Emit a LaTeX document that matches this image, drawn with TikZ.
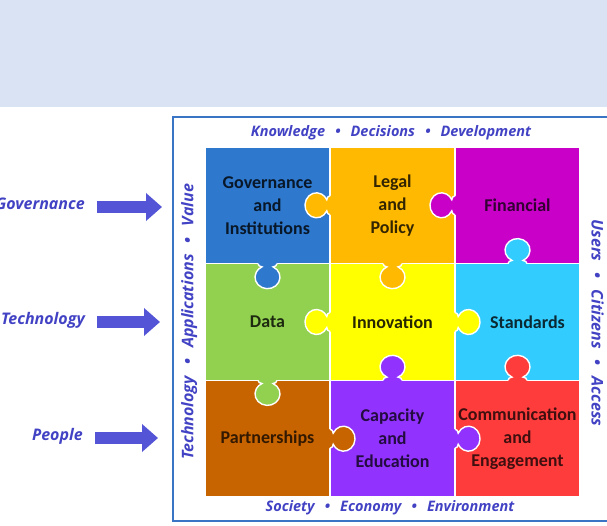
\documentclass[tikz,border=0pt]{standalone}
\usepackage{fontspec}
\setmainfont{Carlito}
\newfontfamily\lblfont{Open Sans}
\usetikzlibrary{positioning,arrows.meta}

\definecolor{bandblue}{RGB}{218,227,243}
\definecolor{frameblue}{RGB}{58,116,196}
\definecolor{lblblue}{RGB}{66,66,196}
\definecolor{arrowblue}{RGB}{84,84,214}
\definecolor{govblue}{RGB}{46,120,205}
\definecolor{legalorange}{RGB}{255,185,0}
\definecolor{finmagenta}{RGB}{200,0,200}
\definecolor{datagreen}{RGB}{146,208,80}
\definecolor{innoyellow}{RGB}{255,255,0}
\definecolor{stdcyan}{RGB}{51,204,255}
\definecolor{partbrown}{RGB}{200,100,0}
\definecolor{cappurple}{RGB}{145,50,255}
\definecolor{commred}{RGB}{255,60,60}

\newcommand{\sep}{\hspace{0.7em}\textbullet\hspace{0.7em}}
% knob of a piece, sticking out into its neighbour
\newcommand{\puzzleknob}[3]{%
  \begin{scope}[shift={(#1)}, rotate=#2]
    \fill[#3] (-1,-9.5) -- (0,-9.5) .. controls (1.8,-9.5) and (3.2,-7.5) .. (3.2,-5.5)
      arc[start angle=-153.9, end angle=153.9, x radius=11.5, y radius=12.5]
      .. controls (3.2,7.5) and (1.8,9.5) .. (0,9.5) -- (-1,9.5) -- cycle;
    \draw[knobline] (0,-9.5) .. controls (1.8,-9.5) and (3.2,-7.5) .. (3.2,-5.5)
      arc[start angle=-153.9, end angle=153.9, x radius=11.5, y radius=12.5]
      .. controls (3.2,7.5) and (1.8,9.5) .. (0,9.5);
  \end{scope}}

\begin{document}
\begin{tikzpicture}[x=1pt,y=-1pt,
  piece/.style={rectangle,draw=white,line width=1.5pt,minimum width=125pt,minimum height=116.7pt,
    inner sep=0pt,outer sep=0pt,align=center,font=\fontsize{18}{23}\selectfont\bfseries},
  knobline/.style={white,line width=1.4pt},
  sidelabel/.style={font=\lblfont\bfseries\itshape\fontsize{14.5}{18}\selectfont,text=lblblue,inner sep=0pt},
  biglabel/.style={sidelabel,font=\lblfont\bfseries\itshape\fontsize{16}{20}\selectfont},
  bigarrow/.style={draw=arrowblue,line width=12pt,-{Triangle[length=16pt,width=27pt]}}
  ]
    \useasboundingbox (0,0) rectangle (607,526);
    \fill[bandblue] (0,0) rectangle (607,107);
    \draw[frameblue,line width=2.2pt] (173,117) rectangle (615,521);

    \node[piece,fill=govblue,text=govblue!20!black] (gov) at (267.5,205.3) {Governance\\and\\Institutions};
    \node[piece,fill=legalorange,text=legalorange!20!black,right=0pt of gov] (legal) {Legal\\and\\Policy};
    \node[piece,fill=finmagenta,text=finmagenta!25!black,right=0pt of legal] (fin) {Financial};
    \node[piece,fill=datagreen,text=datagreen!20!black,below=0pt of gov] (data) {Data};
    \node[piece,fill=innoyellow,text=innoyellow!15!black,right=0pt of data] (inno) {Innovation};
    \node[piece,fill=stdcyan,text=stdcyan!20!black,right=0pt of inno] (std) {\hspace*{20pt}Standards};
    \node[piece,fill=partbrown,text=partbrown!25!black,below=0pt of data] (part) {Partnerships};
    \node[piece,fill=cappurple,text=cappurple!25!black,right=0pt of part] (cap) {Capacity\\and\\Education};
    \node[piece,fill=commred,text=commred!25!black,right=0pt of cap] (comm) {Communication\\and\\Engagement};

    \puzzleknob{legal.west}{180}{legalorange}
    \puzzleknob{fin.west}{180}{finmagenta}
    \puzzleknob{std.north}{90}{stdcyan}
    \puzzleknob{gov.south}{-90}{govblue}
    \puzzleknob{legal.south}{-90}{legalorange}
    \puzzleknob{inno.west}{180}{innoyellow}
    \puzzleknob{inno.east}{0}{innoyellow}
    \puzzleknob{data.south}{-90}{datagreen}
    \puzzleknob{cap.north}{90}{cappurple}
    \puzzleknob{comm.north}{90}{commred}
    \puzzleknob{part.east}{0}{partbrown}
    \puzzleknob{cap.east}{0}{cappurple}

    \node[sidelabel,anchor=mid] (toplbl) at (391,134.5) {Knowledge\sep Decisions\sep Development};
    \node[sidelabel,anchor=mid] (botlbl) at (390,509) {Society\sep Economy\sep Environment};
    \node[biglabel,anchor=mid,rotate=90] (leftlbl) at (191,322) {Technology\sep Applications\sep Value};
    \node[biglabel,anchor=mid,rotate=-90] (rightlbl) at (594,323) {Users\sep Citizens\sep Access};

    \node[biglabel,anchor=mid east] (govlbl) at (85,207) {Governance};
    \node[biglabel,anchor=mid east] (techlbl) at (85,322) {Technology};
    \node[biglabel,anchor=mid east] (peoplelbl) at (83,438) {People};
    \coordinate (govtip) at (162,207);
    \coordinate (techtip) at (160,322);
    \coordinate (peopletip) at (158,438);
    \draw[bigarrow] ([xshift=12pt]govlbl.mid east) -- (govtip);
    \draw[bigarrow] ([xshift=12pt]techlbl.mid east) -- (techtip);
    \draw[bigarrow] ([xshift=12pt]peoplelbl.mid east) -- (peopletip);
\end{tikzpicture}
\end{document}
